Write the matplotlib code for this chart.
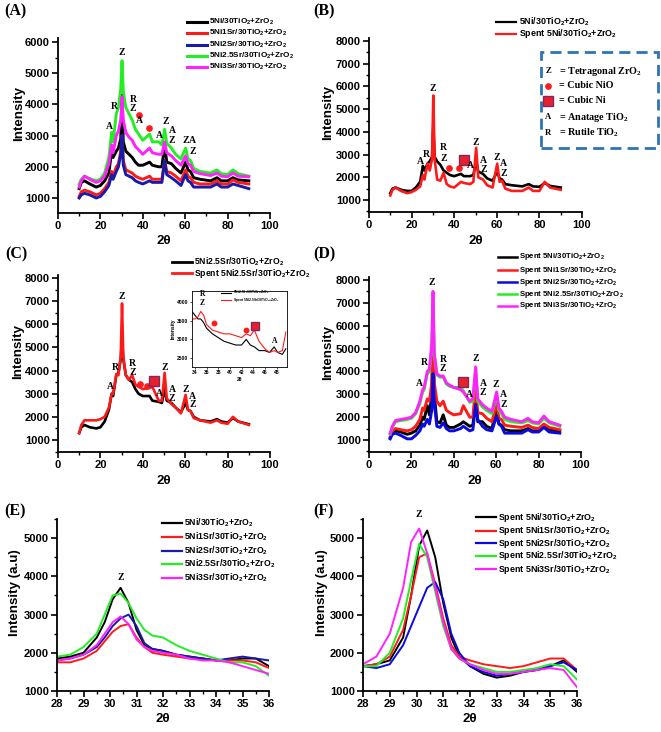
import matplotlib
matplotlib.use('Agg')
import matplotlib.pyplot as plt
from matplotlib.lines import Line2D
from matplotlib.patches import Rectangle
from matplotlib.ticker import MultipleLocator

plt.rcParams['font.family'] = ['Liberation Sans', 'DejaVu Sans']
plt.rcParams['font.weight'] = 'bold'
plt.rcParams['axes.labelweight'] = 'bold'
plt.rcParams['mathtext.default'] = 'regular'

# ---------------- data ----------------
TWO_THETA = [10, 11, 12.5, 15, 18, 20, 22, 24, 25.3, 26, 27.5, 28.5, 29.6, 30.2, 30.8,
             32, 33.5, 35, 36.5, 38, 40, 43.2, 44.5, 47.5, 49, 50.3, 51.3, 53.5, 55.5, 58,
             60.2, 61.3, 62.5, 64, 67, 72, 75, 77, 80, 82.5, 85, 90]

LABELS_FRESH = [r'5Ni/30TiO$_2$+ZrO$_2$', r'5Ni1Sr/30TiO$_2$+ZrO$_2$', r'5Ni2Sr/30TiO$_2$+ZrO$_2$',
                r'5Ni2.5Sr/30TiO$_2$+ZrO$_2$', r'5Ni3Sr/30TiO$_2$+ZrO$_2$']
LABELS_SPENT = ['Spent ' + s for s in LABELS_FRESH]

# Panel A: fresh catalysts
A_5Ni = [1300, 1500, 1550, 1450, 1350, 1400, 1550, 1800, 2500, 2300, 2500, 2600, 2900, 4300, 2800,
         2500, 2400, 2300, 2150, 2050, 2050, 2150, 2050, 2000, 2000, 2700, 2150, 2100, 1950, 1800,
         2150, 1900, 1850, 1650, 1600, 1550, 1650, 1550, 1550, 1650, 1580, 1550]
A_1Sr = [1050, 1200, 1250, 1200, 1100, 1150, 1300, 1500, 1850, 1700, 2000, 2100, 2500, 3000, 2200,
         1900, 1850, 1800, 1700, 1650, 1600, 1700, 1600, 1600, 1600, 2200, 1850, 1800, 1700, 1550,
         1900, 1700, 1650, 1500, 1450, 1450, 1550, 1450, 1450, 1580, 1500, 1450]
A_2Sr = [1000, 1100, 1150, 1100, 1000, 1050, 1200, 1400, 1750, 1600, 1850, 2000, 2400, 3000, 2050,
         1750, 1700, 1650, 1550, 1500, 1450, 1550, 1500, 1500, 1500, 2200, 1750, 1650, 1550, 1400,
         1750, 1550, 1500, 1350, 1350, 1350, 1450, 1350, 1350, 1450, 1400, 1300]
A_25Sr = [1450, 1600, 1700, 1620, 1550, 1600, 1800, 2300, 3100, 2800, 3700, 3900, 4500, 5400, 4400,
          3900, 3700, 3500, 3200, 3050, 2850, 3050, 2800, 2800, 2700, 3200, 2750, 2600, 2400, 2250,
          2600, 2250, 2200, 1950, 1850, 1800, 1900, 1780, 1750, 1900, 1780, 1700]
A_3Sr = [1350, 1550, 1700, 1600, 1500, 1550, 1700, 2100, 2700, 2450, 3000, 3150, 3500, 4250, 3500,
         3100, 2950, 2850, 2650, 2550, 2400, 2600, 2450, 2400, 2400, 2800, 2450, 2350, 2200, 2050,
         2350, 2100, 2050, 1850, 1780, 1720, 1800, 1700, 1680, 1800, 1700, 1680]

# Panel B: fresh vs spent 5Ni
B_fresh = [1300, 1500, 1550, 1450, 1400, 1400, 1550, 1800, 2500, 2300, 2600, 2700, 2900, 4300, 2900,
           2700, 2550, 2300, 2200, 2100, 2050, 2150, 2050, 2050, 2100, 2700, 2250, 2150, 1950, 1850,
           2250, 1950, 1900, 1700, 1650, 1600, 1700, 1600, 1580, 1750, 1620, 1550]
B_spent = [1200, 1450, 1550, 1400, 1300, 1350, 1450, 1600, 2100, 1900, 2600, 2300, 2800, 5600, 2800,
           1900, 1850, 2200, 1700, 1600, 1550, 1800, 1750, 1700, 1800, 3300, 2000, 1900, 1650, 1550,
           2600, 1800, 1850, 1500, 1400, 1400, 1550, 1400, 1400, 1800, 1550, 1450]

# Panel C: fresh vs spent 5Ni2.5Sr
C_fresh = [1300, 1550, 1650, 1550, 1500, 1550, 1800, 2300, 3000, 2900, 3800, 3900, 4500, 5400, 4500,
           3800, 3600, 3500, 3200, 3000, 2900, 2900, 2700, 2650, 2600, 3200, 2700, 2600, 2400, 2200,
           2600, 2300, 2250, 2000, 1850, 1800, 1900, 1800, 1750, 1950, 1800, 1680]
C_spent = [1300, 1650, 1850, 1850, 1850, 1900, 2000, 2400, 3000, 3000, 3850, 3800, 4600, 6900, 4600,
           3800, 3600, 3800, 3400, 3300, 3200, 3250, 3300, 2700, 2700, 3900, 2800, 2550, 2400, 2150,
           2950, 2300, 2250, 1950, 1850, 1750, 1850, 1750, 1700, 2000, 1800, 1650]

# Inset of panel C
INSET_2THETA = [33.5, 34, 34.5, 35, 35.5, 36, 37, 38, 39, 40, 41, 42, 42.8, 43.5, 44.2, 45, 46,
                46.8, 47.6, 48.2, 49, 49.6]
IN_fresh = [3750, 3650, 3550, 3550, 3450, 3300, 3150, 3050, 2950, 2900, 2850, 2850, 3000, 2850,
            2800, 2700, 2700, 2650, 2800, 2650, 2600, 2750]
IN_spent = [3550, 3550, 3600, 3750, 3650, 3400, 3250, 3200, 3150, 3150, 3100, 3050, 3150, 3100,
            3250, 2950, 2750, 2650, 2700, 2650, 2700, 3200]

# Panel D: spent catalysts
D_5Ni = [1100, 1350, 1400, 1350, 1250, 1300, 1400, 1650, 2000, 1900, 2500, 2100, 3000, 5200, 3000,
         1800, 1750, 2100, 1650, 1550, 1550, 1700, 1800, 1600, 1650, 2800, 1800, 1800, 1600, 1500,
         2400, 1700, 1650, 1450, 1400, 1400, 1500, 1400, 1400, 1600, 1450, 1400]
D_1Sr = [1150, 1400, 1500, 1450, 1400, 1450, 1600, 1900, 2400, 2300, 2800, 2700, 3500, 6000, 3500,
         2700, 2500, 2700, 2300, 2200, 2100, 2150, 2500, 2000, 2000, 3400, 2200, 2150, 1950, 1800,
         2600, 1950, 1900, 1650, 1600, 1550, 1650, 1550, 1500, 1700, 1550, 1450]
D_2Sr = [1050, 1250, 1300, 1200, 1050, 1050, 1200, 1400, 1700, 1600, 1900, 1700, 2300, 3900, 2600,
         1600, 1550, 1750, 1500, 1400, 1400, 1500, 1600, 1400, 1450, 2550, 1900, 1600, 1450, 1400,
         2050, 1700, 1600, 1300, 1300, 1300, 1450, 1350, 1350, 1550, 1350, 1300]
D_25Sr = [1250, 1550, 1800, 1850, 1900, 1950, 2150, 2600, 3100, 3200, 3900, 4000, 5000, 7000, 4700,
          3850, 3750, 3750, 3450, 3350, 3300, 3300, 3150, 2650, 2700, 4100, 2700, 2450, 2300, 2150,
          2950, 2300, 2150, 1900, 1800, 1750, 1850, 1750, 1700, 1950, 1750, 1600]
D_3Sr = [1300, 1600, 1850, 1900, 1950, 2000, 2200, 2700, 3200, 3300, 4000, 4100, 5200, 7500, 4800,
         3900, 3800, 3800, 3500, 3400, 3300, 3200, 3100, 2700, 2800, 4200, 2800, 2550, 2400, 2250,
         3100, 2400, 2250, 2000, 1900, 1800, 1950, 1800, 1750, 2050, 1800, 1650]

# Panels E / F: zoom on the (101) ZrO2 reflection
ZOOM_2THETA = [28, 28.5, 29, 29.5, 29.8, 30.1, 30.4, 30.7, 31, 31.3, 31.6, 32, 32.5, 33, 33.5,
               34, 34.5, 35, 35.5, 36]
E_5Ni = [1850, 1900, 2000, 2400, 2800, 3400, 3700, 3300, 2600, 2200, 2100, 2050, 1950, 1900, 1850,
         1800, 1800, 1850, 1850, 1650]
E_1Sr = [1750, 1750, 1850, 2050, 2300, 2550, 2700, 2750, 2400, 2150, 2000, 1950, 1900, 1850, 1850,
         1800, 1800, 1800, 1750, 1600]
E_2Sr = [1800, 1850, 1950, 2150, 2400, 2700, 2900, 3000, 2700, 2250, 2100, 2050, 1950, 1900, 1850,
         1800, 1850, 1900, 1850, 1800]
E_25Sr = [1900, 1950, 2150, 2500, 3000, 3500, 3550, 3300, 2900, 2600, 2450, 2400, 2200, 2050, 1950,
          1850, 1750, 1750, 1650, 1400]
E_3Sr = [1800, 1850, 1950, 2200, 2500, 2800, 2950, 2750, 2350, 2150, 2050, 2000, 1950, 1850, 1800,
         1800, 1750, 1650, 1550, 1450]

F_5Ni = [1650, 1700, 1800, 2400, 3500, 4800, 5200, 4500, 3300, 2400, 1900, 1650, 1450, 1350, 1400,
         1500, 1550, 1650, 1800, 1500]
F_1Sr = [1650, 1700, 1900, 2600, 3500, 4500, 4600, 3800, 2900, 2200, 1900, 1800, 1700, 1650, 1600,
         1650, 1750, 1850, 1850, 1550]
F_2Sr = [1650, 1600, 1700, 2200, 2700, 3200, 3700, 3850, 3400, 2500, 2000, 1650, 1500, 1400, 1450,
         1500, 1550, 1650, 1750, 1550]
F_25Sr = [1650, 1650, 2000, 2900, 3900, 4850, 4500, 3600, 2700, 2100, 1850, 1700, 1600, 1500, 1500,
          1550, 1600, 1700, 1650, 1300]
F_3Sr = [1700, 1900, 2500, 3700, 4900, 5250, 4600, 3700, 2800, 2100, 1850, 1700, 1550, 1450, 1450,
         1500, 1550, 1600, 1550, 1100]

# Phase markers (label, 2theta, intensity)
ANNOT_A = [('Z', 30.3, 5650), ('R', 26.4, 3940), ('R', 35.5, 4150), ('Z', 35.5, 3860),
           ('A', 38.2, 3490), ('A', 24.1, 3300), ('A', 47.8, 3010), ('Z', 50.8, 3460),
           ('A', 53.8, 3170), ('Z', 53.8, 2850), ('Z', 60.2, 2830), ('A', 63.5, 2830),
           ('Z', 63.5, 2500)]
DOTS_A = [(38.2, 3670), (43.1, 3240)]
ANNOT_B = [('Z', 29.8, 5910), ('A', 24.2, 2700), ('R', 27.0, 3020), ('R', 34.9, 3310),
           ('Z', 34.9, 2840), ('A', 47.4, 2520), ('Z', 50.2, 3530), ('A', 53.7, 2740),
           ('Z', 53.7, 2360), ('Z', 60.0, 2870), ('A', 63.1, 2590), ('Z', 63.1, 2150)]
DOTS_B = [(37.5, 2430), (42.4, 2430)]
CUBE_B = [(44.7, 2770)]
ANNOT_C = [('Z', 30.2, 7180), ('R', 26.9, 4130), ('A', 24.5, 3310), ('R', 35.2, 4290),
           ('Z', 35.2, 3910), ('A', 47.8, 2990), ('Z', 50.3, 4130), ('A', 53.9, 3190),
           ('Z', 53.9, 2800), ('Z', 60.4, 3190), ('A', 63.4, 2900), ('Z', 63.4, 2520)]
DOTS_C = [(38.7, 3420), (42.1, 3340)]
CUBE_C = [(45.3, 3530)]
ANNOT_D = [('Z', 29.8, 7880), ('R', 26.0, 4400), ('A', 23.7, 3480), ('R', 35.0, 4540),
           ('Z', 35.0, 4130), ('A', 47.3, 3010), ('Z', 50.3, 4560), ('A', 53.9, 3450),
           ('Z', 53.9, 3070), ('Z', 59.9, 3430), ('A', 63.4, 2970), ('Z', 63.4, 2570)]
CUBE_D = [(44.5, 3520)]
ANNOT_E = [('Z', 30.39, 3970)]
ANNOT_F = [('Z', 30.1, 5610)]
ANNOT_IN = [('R', 35.3, 4230), ('Z', 35.3, 3965), ('A', 47.6, 2950)]
DOTS_IN = [(37.3, 3450), (42.7, 3250)]
CUBE_IN = [(44.3, 3370)]

PHASES = [('Z', r'= Tetragonal ZrO$_2$'), ('dot', '= Cubic NiO'), ('cube', '= Cubic Ni'),
          ('A', r'= Anatage TiO$_2$'), ('R', r'= Rutile TiO$_2$')]

# ---------------- styling ----------------
W, H = 661, 732
fig = plt.figure(figsize=(W / 100, H / 100), dpi=100)
SERIF = ['Liberation Serif', 'DejaVu Serif']
COL5 = ['#000000', '#ff1a1a', '#1a1aa8', '#22ee22', '#ff22ff']
COL5D = ['#000000', '#ff1a1a', '#0a0ae0', '#22ee22', '#ff22ff']
RED = '#ff1a1a'


def add_ax(x0, y0, x1, y1):
    ax = fig.add_axes([x0 / W, 1 - y1 / H, (x1 - x0) / W, (y1 - y0) / H])
    ax._px = (x0, x1)
    return ax


def style(ax, xlim, ylim, xmaj, xmin, ymaj, ymin, ylabel, yl_right):
    ax.set_xlim(*xlim)
    ax.set_ylim(*ylim)
    for s in ['top', 'right']:
        ax.spines[s].set_visible(False)
    for s in ['left', 'bottom']:
        ax.spines[s].set_linewidth(1.3)
    ax.xaxis.set_major_locator(MultipleLocator(xmaj))
    ax.xaxis.set_minor_locator(MultipleLocator(xmin))
    ax.yaxis.set_major_locator(MultipleLocator(ymaj))
    ax.yaxis.set_minor_locator(MultipleLocator(ymin))
    ax.tick_params(which='major', direction='out', length=4, width=1.2, labelsize=8, pad=2)
    ax.tick_params(which='minor', direction='out', length=2.2, width=1.0)
    ax.set_xlabel('2θ', fontsize=9.5, labelpad=3)
    ax.set_ylabel(ylabel, fontsize=9.6)
    x0, x1 = ax._px
    ax.yaxis.set_label_coords((yl_right - x0) / (x1 - x0), 0.57)
    ax.patch.set_alpha(0)


def legend(x0, x1, xt, ys, colors, labels, fs, lw=2.0):
    for y, c, lab in zip(ys, colors, labels):
        fig.add_artist(Line2D([x0 / W, x1 / W], [1 - y / H, 1 - y / H], color=c, lw=lw,
                              transform=fig.transFigure))
        fig.text(xt / W, 1 - y / H, lab, fontsize=fs, va='center', ha='left')


def annotate(ax, annots, dots=(), cubes=(), fs=7, ms_dot=3.8, ms_cube=6.5):
    for lab, x, y in annots:
        ax.text(x, y, lab, family=SERIF, fontsize=fs, ha='center', va='center', clip_on=False)
    for x, y in dots:
        ax.plot([x], [y], 'o', color=RED, ms=ms_dot, mec=RED, clip_on=False)
    for x, y in cubes:
        ax.plot([x], [y], 's', mfc='#e8202a', mec='#7a2a6a', mew=1.0, ms=ms_cube, clip_on=False)


def panel_label(x, y, s):
    fig.text(x / W, 1 - y / H, s, family=SERIF, fontsize=11.5, va='center', ha='left')


# ---- (A)
axA = add_ax(58, 38, 270, 213)
for ys, c in zip([A_5Ni, A_1Sr, A_2Sr, A_25Sr, A_3Sr], COL5):
    axA.plot(TWO_THETA, ys, color=c, lw=2.1)
style(axA, (0, 100), (519, 6128), 20, 10, 1000, 500, 'Intensity', 25)
annotate(axA, ANNOT_A, DOTS_A)
legend(187, 207, 209, [22, 33.3, 44.6, 56, 67.3], COL5, LABELS_FRESH, 5.9, lw=2.2)
panel_label(4, 11, '(A)')

# ---- (B)
axB = add_ax(369, 38, 582, 212)
axB.plot(TWO_THETA, B_fresh, color='#000000', lw=1.9)
axB.plot(TWO_THETA, B_spent, color=RED, lw=1.9)
style(axB, (0, 100), (472, 8132), 20, 10, 1000, 500, 'Intensity', 334)
annotate(axB, ANNOT_B, DOTS_B, CUBE_B)
legend(496, 516, 519, [22, 34], ['#000000', RED], [LABELS_FRESH[0], LABELS_SPENT[0]], 6.4, lw=1.6)
panel_label(313, 11, '(B)')

# phase legend box
fig.add_artist(Rectangle((541 / W, 1 - 148 / H), 117 / W, 96 / H, transform=fig.transFigure,
                         fill=False, edgecolor='#2e74b5', lw=2.0, linestyle=(0, (4, 2.2))))
row_y = [71, 86, 100.5, 117, 133]
for (sym, txt), y in zip(PHASES, row_y):
    yf = 1 - y / H
    if sym == 'dot':
        fig.add_artist(Line2D([548 / W], [yf], marker='o', color=RED, ms=3.8, transform=fig.transFigure))
    elif sym == 'cube':
        fig.add_artist(Line2D([548 / W], [yf], marker='s', mfc='#e8202a', mec='#7a2a6a', mew=1.0,
                              ms=6.5, transform=fig.transFigure))
    else:
        fig.text(548 / W, yf, sym, family=SERIF, fontsize=6.2, ha='center', va='center')
    fig.text(559 / W, yf, txt, family=SERIF, fontsize=7.3, ha='left', va='center')

# ---- (C)
axC = add_ax(58, 275, 270, 452)
axC.plot(TWO_THETA, C_fresh, color='#000000', lw=1.9)
axC.plot(TWO_THETA, C_spent, color=RED, lw=1.9)
style(axC, (0, 100), (481, 8130), 20, 10, 1000, 500, 'Intensity', 24)
annotate(axC, ANNOT_C, DOTS_C, CUBE_C)
legend(172, 192, 194, [262, 273.5], ['#000000', RED], [LABELS_FRESH[3], LABELS_SPENT[3]], 6.2, lw=2.0)
panel_label(5, 254, '(C)')

# inset
axI = add_ax(192, 291, 287, 367)
axI.plot(INSET_2THETA, IN_fresh, color='#000000', lw=0.8)
axI.plot(INSET_2THETA, IN_spent, color=RED, lw=0.8)
axI.set_xlim(33.5, 49.8)
axI.set_ylim(2260, 4300)
axI.xaxis.set_major_locator(MultipleLocator(2))
axI.yaxis.set_major_locator(MultipleLocator(500))
axI.tick_params(direction='out', length=1.5, width=0.5, labelsize=3.6, pad=1)
for s in axI.spines.values():
    s.set_linewidth(0.6)
axI.set_xlabel('2θ', fontsize=3.6, labelpad=1)
axI.set_ylabel('Intensity', fontsize=3.6, labelpad=1)
annotate(axI, ANNOT_IN, DOTS_IN, CUBE_IN, fs=5.5, ms_dot=3.2, ms_cube=5.5)
legend(221, 231, 233, [292.5, 300], ['#000000', RED], ['5Ni2.5Sr/30TiO$_2$+ZrO$_2$',
                                                      'Spent 5Ni2.5Sr/30TiO$_2$+ZrO$_2$'], 2.4, lw=0.8)

# ---- (D)
axD = add_ax(369, 277, 581, 452)
for ys, c in zip([D_5Ni, D_1Sr, D_2Sr, D_25Sr, D_3Sr], COL5D):
    axD.plot(TWO_THETA, ys, color=c, lw=2.1)
style(axD, (0, 100), (475, 8131), 20, 10, 1000, 500, 'Intensity', 334)
annotate(axD, ANNOT_D, (), CUBE_D)
legend(498, 517, 519, [257, 270, 282, 294, 305.5], COL5D, LABELS_SPENT, 5.6, lw=1.8)
panel_label(313, 254, '(D)')

# ---- (E)
axE = add_ax(57, 519, 269, 691)
for ys, c in zip([E_5Ni, E_1Sr, E_2Sr, E_25Sr, E_3Sr], COL5):
    axE.plot(ZOOM_2THETA, ys, color=c, lw=1.4)
style(axE, (28, 36), (1000, 5500), 1, 0.5, 1000, 500, 'Intensity (a.u)', 21)
annotate(axE, ANNOT_E)
legend(162, 182, 184, [523, 537, 550.5, 564, 578], COL5, LABELS_FRESH, 6.3, lw=1.6)
panel_label(4, 511, '(E)')

# ---- (F)
axF = add_ax(363, 519, 577, 691)
for ys, c in zip([F_5Ni, F_1Sr, F_2Sr, F_25Sr, F_3Sr], COL5D):
    axF.plot(ZOOM_2THETA, ys, color=c, lw=1.4)
style(axF, (28, 36), (1000, 5500), 1, 0.5, 1000, 500, 'Intensity (a.u)', 328)
annotate(axF, ANNOT_F)
legend(476, 496, 498, [517, 530.5, 543, 556, 569], COL5D, LABELS_SPENT, 6.4, lw=1.6)
panel_label(313, 511, '(F)')

fig.savefig('out.png', dpi=100)
